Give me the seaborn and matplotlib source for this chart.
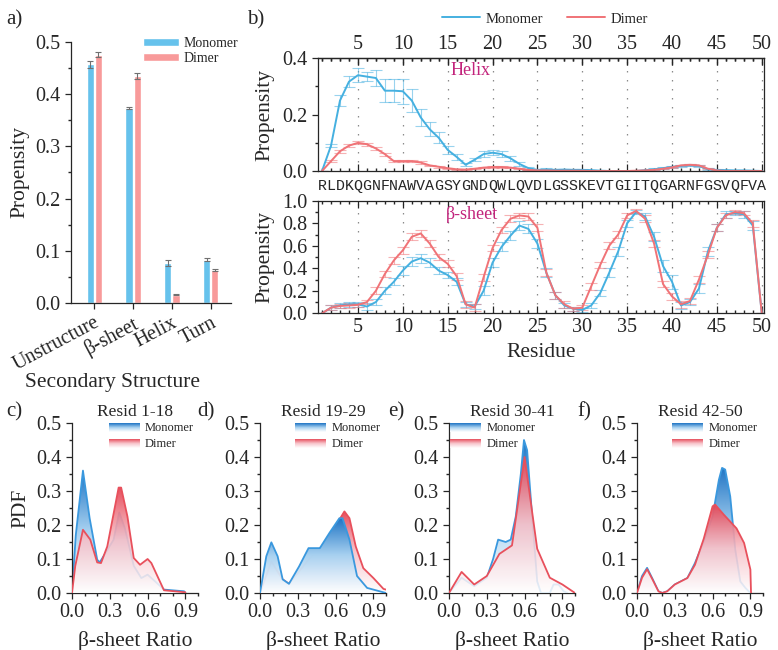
import numpy as np
import pandas as pd
import matplotlib
matplotlib.use('Agg')
import matplotlib.pyplot as plt
import seaborn as sns
from matplotlib.colors import LinearSegmentedColormap
from matplotlib.ticker import FixedLocator, FuncFormatter, MultipleLocator

# ---------------- data ----------------
# a) secondary structure content
categories = ['Unstructure', 'β-sheet', 'Helix', 'Turn']
mono_prop = [0.457, 0.374, 0.076, 0.083]
mono_err = [0.006, 0.002, 0.006, 0.003]
dimer_prop = [0.476, 0.435, 0.016, 0.063]
dimer_err = [0.004, 0.005, 0.001, 0.0015]

# b) per-residue propensity
sequence = 'RLDKQGNFNAWVAGSYGNDQWLQVDLGSSKEVTGIITQGARNFGSVQFVA'
residues = list(range(1, 51))
helix_mono = [0, 0.09, 0.25, 0.317, 0.34, 0.335, 0.33, 0.285, 0.285, 0.283, 0.25, 0.19, 0.148,
              0.118, 0.075, 0.05, 0.022, 0.04, 0.06, 0.065, 0.06, 0.045, 0.025, 0.01, 0.004,
              0.005, 0.004, 0.005, 0.004, 0.004, 0.003, 0.001, 0, 0, 0, 0, 0.003, 0.006, 0.01,
              0.015, 0.018, 0.02, 0.018, 0.006, 0.004, 0.003, 0.002, 0.002, 0.001, 0]
helix_mono_err = [0, 0.006, 0.02, 0.02, 0.025, 0.015, 0.03, 0.04, 0.04, 0.045, 0.04, 0.03, 0.025,
                  0.02, 0.015, 0.01, 0.006, 0.006, 0.01, 0.008, 0.01, 0.01, 0.008, 0.005, 0.004,
                  0.004, 0.003, 0.003, 0.003, 0.003, 0.002, 0.001, 0, 0, 0, 0, 0.002, 0.003, 0.004,
                  0.004, 0.004, 0.004, 0.004, 0.003, 0.002, 0.002, 0.001, 0.001, 0.001, 0]
helix_dimer = [0, 0.035, 0.07, 0.09, 0.1, 0.095, 0.08, 0.06, 0.035, 0.035, 0.035, 0.03, 0.02,
               0.015, 0.01, 0.006, 0.005, 0.008, 0.012, 0.014, 0.014, 0.012, 0.008, 0.004, 0.002,
               0.002, 0.001, 0.001, 0.001, 0.001, 0, 0, 0, 0, 0, 0.001, 0.002, 0.004, 0.008,
               0.013, 0.02, 0.022, 0.02, 0.008, 0.002, 0, 0, 0, 0, 0]
helix_dimer_err = [0, 0.004, 0.006, 0.006, 0.005, 0.005, 0.005, 0.005, 0.004, 0.004, 0.004, 0.004,
                   0.003, 0.003, 0.002, 0.002, 0.002, 0.002, 0.002, 0.002, 0.002, 0.002, 0.002,
                   0.001, 0.001, 0.001, 0.001, 0.001, 0.001, 0.001, 0, 0, 0, 0, 0, 0.001, 0.001,
                   0.002, 0.002, 0.002, 0.002, 0.002, 0.002, 0.002, 0.001, 0, 0, 0, 0, 0]
beta_mono = [0, 0.05, 0.07, 0.08, 0.08, 0.06, 0.1, 0.2, 0.28, 0.38, 0.46, 0.49, 0.45, 0.38, 0.34,
             0.28, 0.08, 0.06, 0.2, 0.45, 0.59, 0.69, 0.78, 0.75, 0.62, 0.36, 0.16, 0.07, 0.04,
             0.03, 0.07, 0.18, 0.36, 0.55, 0.8, 0.9, 0.86, 0.68, 0.42, 0.28, 0.07, 0.1, 0.22,
             0.55, 0.76, 0.88, 0.89, 0.88, 0.78, 0]
beta_mono_err = [0, 0.02, 0.02, 0.02, 0.02, 0.03, 0.03, 0.03, 0.03, 0.04, 0.04, 0.04, 0.04, 0.03,
                 0.03, 0.03, 0.02, 0.02, 0.04, 0.04, 0.04, 0.04, 0.04, 0.04, 0.04, 0.04, 0.03, 0.02,
                 0.02, 0.02, 0.02, 0.03, 0.04, 0.04, 0.03, 0.02, 0.03, 0.04, 0.05, 0.06, 0.03, 0.03,
                 0.04, 0.04, 0.03, 0.03, 0.02, 0.03, 0.04, 0]
beta_dimer = [0, 0.05, 0.065, 0.07, 0.075, 0.1, 0.2, 0.35, 0.47, 0.56, 0.68, 0.71, 0.62, 0.5, 0.44,
              0.33, 0.08, 0.05, 0.32, 0.58, 0.74, 0.84, 0.87, 0.86, 0.76, 0.36, 0.16, 0.08, 0.04,
              0.05, 0.24, 0.43, 0.6, 0.7, 0.87, 0.91, 0.84, 0.62, 0.26, 0.15, 0.08, 0.11, 0.3,
              0.52, 0.76, 0.87, 0.9, 0.89, 0.8, 0]
beta_dimer_err = [0, 0.02, 0.02, 0.02, 0.02, 0.02, 0.03, 0.03, 0.03, 0.03, 0.03, 0.03, 0.03, 0.03,
                  0.03, 0.03, 0.03, 0.03, 0.03, 0.03, 0.03, 0.03, 0.02, 0.03, 0.03, 0.03, 0.03, 0.03,
                  0.02, 0.02, 0.03, 0.03, 0.03, 0.03, 0.02, 0.02, 0.03, 0.03, 0.03, 0.03, 0.03, 0.03,
                  0.03, 0.03, 0.03, 0.02, 0.02, 0.02, 0.03, 0]

# c-f) PDF of beta-sheet ratio per region
region_titles = ['Resid 1-18', 'Resid 19-29', 'Resid 30-41', 'Resid 42-50']
c_mono_x = [0, 0.03, 0.087, 0.14, 0.2, 0.22, 0.27, 0.33, 0.375, 0.42, 0.49, 0.55, 0.6, 0.66, 0.73, 0.89, 0.9]
c_mono_y = [0, 0.17, 0.36, 0.22, 0.098, 0.09, 0.12, 0.157, 0.237, 0.19, 0.08, 0.044, 0.054, 0.034, 0.01, 0.005, 0]
c_dim_x = [0, 0.026, 0.087, 0.145, 0.2, 0.23, 0.28, 0.37, 0.39, 0.44, 0.49, 0.54, 0.6, 0.63, 0.69, 0.73, 0.9]
c_dim_y = [0, 0.08, 0.186, 0.157, 0.09, 0.088, 0.137, 0.31, 0.31, 0.225, 0.103, 0.083, 0.1, 0.088, 0.04, 0.008, 0.002]
d_mono_x = [0, 0.05, 0.09, 0.14, 0.18, 0.23, 0.31, 0.385, 0.475, 0.55, 0.63, 0.655, 0.71, 0.77, 0.85, 0.98, 1.0]
d_mono_y = [0, 0.108, 0.149, 0.108, 0.04, 0.027, 0.078, 0.132, 0.132, 0.176, 0.22, 0.22, 0.157, 0.05, 0.015, 0.002, 0]
d_dim_x = [0, 0.09, 0.155, 0.18, 0.23, 0.385, 0.49, 0.565, 0.67, 0.71, 0.76, 0.82, 0.9, 0.98, 1.0]
d_dim_y = [0, 0.093, 0.054, 0.04, 0.027, 0.098, 0.137, 0.176, 0.24, 0.22, 0.137, 0.073, 0.044, 0.012, 0.01]
e_mono_x = [0, 0.1, 0.2, 0.3, 0.35, 0.39, 0.45, 0.49, 0.53, 0.57, 0.595, 0.62, 0.66, 0.7, 0.73, 0.8, 0.83, 0.87, 0.91, 0.94]
e_mono_y = [0, 0.045, 0.02, 0.045, 0.1, 0.157, 0.15, 0.157, 0.225, 0.35, 0.45, 0.42, 0.225, 0.034, 0, 0, 0.025, 0.025, 0.005, 0]
e_dim_x = [0, 0.1, 0.2, 0.3, 0.4, 0.5, 0.6, 0.7, 0.8, 0.9, 1.0]
e_dim_y = [0, 0.062, 0.025, 0.05, 0.115, 0.14, 0.4, 0.13, 0.045, 0.025, 0]
f_mono_x = [0, 0.04, 0.08, 0.12, 0.17, 0.2, 0.24, 0.3, 0.4, 0.46, 0.53, 0.6, 0.65, 0.675, 0.7, 0.74, 0.78, 0.82, 0.86, 0.9]
f_mono_y = [0, 0.05, 0.074, 0.044, 0.005, 0, 0.005, 0.025, 0.044, 0.088, 0.152, 0.225, 0.333, 0.368, 0.363, 0.284, 0.127, 0.034, 0.015, 0]
f_dim_x = [0, 0.04, 0.08, 0.12, 0.17, 0.2, 0.24, 0.3, 0.4, 0.46, 0.53, 0.6, 0.62, 0.69, 0.79, 0.85, 0.9, 0.905]
f_dim_y = [0, 0.045, 0.07, 0.042, 0.005, 0, 0.005, 0.025, 0.044, 0.083, 0.16, 0.255, 0.26, 0.23, 0.19, 0.147, 0.069, 0]

# ---------------- style ----------------
sns.set_theme(style='ticks')
plt.rcParams['font.family'] = ['Liberation Serif', 'DejaVu Serif']
plt.rcParams['axes.linewidth'] = 0.9
plt.rcParams['xtick.major.width'] = 0.9
plt.rcParams['ytick.major.width'] = 0.9

BAR_BLUE, BAR_RED = '#66c2ec', '#f89a9a'
LINE_BLUE, LINE_RED = '#45b0e0', '#f07377'
PDF_BLUE, PDF_RED = '#3a98de', '#e8505c'
MAGENTA = '#c2247c'
TICK_FS, LAB_FS = 14.5, 15.5

fig = plt.figure(figsize=(7.78, 6.5), dpi=100)
W, H = 778, 650


def px_axes(left, top, right, bottom):
    return fig.add_axes([left / W, 1 - bottom / H, (right - left) / W, (bottom - top) / H])


# ---------------- a) bar chart ----------------
axa = px_axes(71, 42, 231, 303)
df = pd.DataFrame({'structure': categories * 2,
                   'propensity': mono_prop + dimer_prop,
                   'state': ['Monomer'] * 4 + ['Dimer'] * 4})
sns.barplot(data=df, x='structure', y='propensity', hue='state', palette=[BAR_BLUE, BAR_RED],
            width=0.42, gap=0.12, errorbar=None, ax=axa, saturation=1)
for cont, errs in zip(axa.containers, [mono_err, dimer_err]):
    xs = [b.get_x() + b.get_width() / 2 for b in cont]
    hs = [b.get_height() for b in cont]
    axa.errorbar(xs, hs, yerr=errs, fmt='none', ecolor='#707070', elinewidth=0.8, capsize=2.5,
                 capthick=0.8)
axa.set_xlim(-0.6, 3.52)
axa.set_ylim(0, 0.5)
axa.set_yticks(np.arange(0, 0.51, 0.1))
axa.yaxis.set_minor_locator(MultipleLocator(0.05))
axa.tick_params(axis='both', labelsize=TICK_FS, length=4, direction='out')
axa.tick_params(axis='y', which='minor', length=2)
axa.set_xticks(range(4))
axa.set_xticklabels(categories, rotation=28, ha='right', rotation_mode='anchor')
axa.set_ylabel('Propensity', fontsize=LAB_FS, labelpad=4)
axa.set_xlabel('Secondary Structure', fontsize=LAB_FS)
axa.xaxis.set_label_coords(0.26, -0.27)
sns.despine(ax=axa)
axa.legend(loc='upper left', bbox_to_anchor=(0.45, 1.02), frameon=False, fontsize=10,
           handlelength=2.6, handleheight=0.55, handletextpad=0.3, labelspacing=0.15,
           borderaxespad=0, borderpad=0)

# ---------------- b) residue propensity ----------------
seq_fmt = FuncFormatter(lambda v, pos: sequence[int(round(v)) - 1] if 1 <= round(v) <= 50 else '')


def residue_axis(ax):
    for r in range(5, 51, 5):
        ax.axvline(r, color='#8a8a8a', lw=0.9, ls=(0, (1.2, 6)), zorder=0)
    ax.set_xlim(0.55, 50.25)
    ax.xaxis.set_major_locator(FixedLocator(range(5, 51, 5)))
    ax.xaxis.set_minor_locator(FixedLocator(residues))
    ax.tick_params(axis='x', which='major', direction='in', length=5, top=True)
    ax.tick_params(axis='x', which='minor', direction='in', length=2.5, top=True)
    ax.tick_params(axis='y', which='both', direction='out', labelsize=TICK_FS)
    ax.tick_params(axis='y', which='major', length=4)
    ax.tick_params(axis='y', which='minor', length=2.5)
    ax.set_ylabel('Propensity', fontsize=LAB_FS, labelpad=6)


def residue_lines(ax, mono, mono_e, dim, dim_e):
    ax.errorbar(residues, mono, yerr=mono_e, fmt='none', ecolor=LINE_BLUE, alpha=0.55,
                elinewidth=0.8, capsize=4.5, capthick=0.8)
    ax.errorbar(residues, dim, yerr=dim_e, fmt='none', ecolor=LINE_RED, alpha=0.55,
                elinewidth=0.8, capsize=4.5, capthick=0.8)
    sns.lineplot(x=residues, y=mono, ax=ax, color=LINE_BLUE, lw=1.4, label='Monomer', legend=False)
    sns.lineplot(x=residues, y=dim, ax=ax, color=LINE_RED, lw=1.4, label='Dimer', legend=False)


axh = px_axes(318, 58.3, 764, 171)
residue_lines(axh, helix_mono, helix_mono_err, helix_dimer, helix_dimer_err)
residue_axis(axh)
axh.set_ylim(0, 0.4)
axh.set_yticks([0, 0.2, 0.4])
axh.set_yticklabels(['0.0', '0.2', '0.4'])
axh.yaxis.set_minor_locator(FixedLocator([0.1, 0.3]))
axh.xaxis.set_major_formatter(seq_fmt)
axh.xaxis.set_minor_formatter(seq_fmt)
axh.tick_params(axis='x', which='both', labelsize=10.8, labelfontfamily='Liberation Mono', pad=6)
top = axh.secondary_xaxis('top')
top.xaxis.set_major_locator(FixedLocator(range(5, 51, 5)))
top.xaxis.set_minor_locator(FixedLocator(residues))
top.tick_params(which='major', direction='in', length=5, labelsize=TICK_FS, pad=3)
top.tick_params(which='minor', direction='in', length=2.5)
axh.text(17.5, 0.355, 'Helix', color=MAGENTA, fontsize=13, ha='center', va='center')

axb = px_axes(318, 200.8, 764, 313.3)
residue_lines(axb, beta_mono, beta_mono_err, beta_dimer, beta_dimer_err)
residue_axis(axb)
axb.set_ylim(0, 1.0)
axb.set_yticks(np.arange(0, 1.01, 0.2))
axb.yaxis.set_minor_locator(MultipleLocator(0.1))
axb.tick_params(axis='x', labelsize=TICK_FS)
axb.set_xlabel('Residue', fontsize=LAB_FS, labelpad=4)
axb.text(17.7, 0.88, 'β-sheet', color=MAGENTA, fontsize=13, ha='center', va='center')

handles, labels = axh.get_legend_handles_labels()
fig.legend(handles, labels, loc='center', bbox_to_anchor=(545 / W, 1 - 19 / H), ncol=2,
           frameon=False, fontsize=10.5, handlelength=2.6, columnspacing=1.6, handletextpad=0.4)

# ---------------- c-f) PDFs ----------------
blue_cmap = LinearSegmentedColormap.from_list('bl', [(1, 1, 1, 0.9), '#a9d2f1', '#1f74c4'])
red_cmap = LinearSegmentedColormap.from_list('rd', [(1, 1, 1, 0.85), (0.97, 0.75, 0.78, 0.88),
                                                    (0.90, 0.27, 0.33, 0.95)])


def gradient_area(ax, x, y, line_color, cmap, z):
    x = np.asarray(x)
    y = np.asarray(y)
    sns.lineplot(x=x, y=y, ax=ax, color=line_color, lw=1.3, sort=False, estimator=None,
                 zorder=z + 0.5)
    poly = ax.fill_between(x, 0, y, facecolor='none', edgecolor='none')
    img = ax.imshow(np.linspace(0, 1, 256)[:, None], cmap=cmap, origin='lower', aspect='auto',
                    extent=[x.min(), x.max(), 0, y.max()], zorder=z, interpolation='bilinear')
    img.set_clip_path(poly.get_paths()[0], transform=ax.transData)


def legend_swatch(ax, x0, y0, cmap):
    ax.imshow(np.linspace(0, 1, 64)[:, None], cmap=cmap, origin='lower', aspect='auto',
              extent=[x0, x0 + 0.24, y0, y0 + 0.05], transform=ax.transAxes, zorder=6,
              clip_on=False)


pdf_sets = [
    (c_mono_x, c_mono_y, c_dim_x, c_dim_y, False),
    (d_mono_x, d_mono_y, d_dim_x, d_dim_y, True),
    (e_mono_x, e_mono_y, e_dim_x, e_dim_y, False),
    (f_mono_x, f_mono_y, f_dim_x, f_dim_y, False),
]
lefts = [72, 260, 449, 637]
legend_x = [0.29, 0.28, 0.01, 0.28]
panel_letters = ['c)', 'd)', 'e)', 'f)']
panel_x = [6, 197, 388, 577]

for i, (mx, my, dx, dy, mono_on_top) in enumerate(pdf_sets):
    ax = px_axes(lefts[i], 423, lefts[i] + 126, 593)
    zm, zd = (4, 2) if mono_on_top else (2, 4)
    gradient_area(ax, mx, my, PDF_BLUE, blue_cmap, zm)
    gradient_area(ax, dx, dy, PDF_RED, red_cmap, zd)
    ax.set_xlim(0, 1.0)
    ax.set_ylim(0, 0.5)
    ax.set_xticks([0, 0.3, 0.6, 0.9])
    ax.xaxis.set_minor_locator(MultipleLocator(0.1))
    ax.set_yticks(np.arange(0, 0.51, 0.1))
    ax.yaxis.set_minor_locator(MultipleLocator(0.05))
    ax.tick_params(axis='both', which='major', labelsize=TICK_FS, length=4, direction='out')
    ax.tick_params(axis='both', which='minor', length=2, direction='out')
    ax.set_xlabel('β-sheet Ratio', fontsize=LAB_FS, labelpad=6)
    if i == 0:
        ax.set_ylabel('PDF', fontsize=LAB_FS, labelpad=4)
    ax.set_title(region_titles[i], fontsize=12.5, pad=5)
    sns.despine(ax=ax)
    lx = legend_x[i]
    legend_swatch(ax, lx, 0.945, blue_cmap)
    legend_swatch(ax, lx, 0.85, red_cmap)
    ax.text(lx + 0.29, 0.97, 'Monomer', transform=ax.transAxes, fontsize=9, va='center', zorder=7)
    ax.text(lx + 0.29, 0.875, 'Dimer', transform=ax.transAxes, fontsize=9, va='center', zorder=7)
    ax.set_xlim(0, 1.0)
    ax.set_ylim(0, 0.5)
    fig.text(panel_x[i] / W, 1 - 412 / H, panel_letters[i], fontsize=15, va='center')

fig.text(6 / W, 1 - 20 / H, 'a)', fontsize=15, va='center')
fig.text(247 / W, 1 - 20 / H, 'b)', fontsize=15, va='center')

fig.savefig('out.png', dpi=100)
